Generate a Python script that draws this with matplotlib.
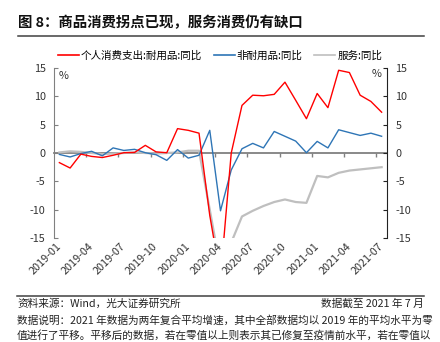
import matplotlib
matplotlib.use("Agg")
import matplotlib.pyplot as plt
from matplotlib.lines import Line2D
import pandas as pd

plt.rcParams['font.family'] = ['Noto Sans CJK SC', 'DejaVu Sans']
plt.rcParams['axes.unicode_minus'] = False

# 月度数据：2019-01 至 2021-07，相对 2019 年平均水平的同比
months = [p.strftime('%Y-%m') for p in pd.period_range('2019-01', '2021-07', freq='M')]

durable = [-1.7, -2.65, -0.2, -0.6, -0.8, -0.4, 0.05, 0.1, 1.35, 0.2,
           0.05, 4.3, 4.0, 3.5, -11.0, -22.0, 0.0, 8.4, 10.2, 10.1,
           10.35, 12.5, 9.3, 6.05, 10.5, 8.0, 14.6, 14.2, 10.2, 9.1, 7.2]
nondurable = [-0.25, -0.7, -0.1, 0.3, -0.5, 0.9, 0.45, 0.65, 0.05, -0.3,
              -1.3, 0.6, -0.9, -0.4, 4.0, -10.2, -3.0, 0.75, 1.7, 0.9,
              3.8, 2.95, 2.1, 0.05, 2.05, 0.9, 4.1, 3.6, 3.1, 3.5, 2.95]
services = [0.1, 0.3, 0.2, 0.0, -0.2, -0.1, 0.0, 0.1, 0.0, -0.1,
            0.0, 0.1, 0.4, 0.4, -10.0, -20.4, -15.8, -11.2, -10.2, -9.35,
            -8.65, -8.2, -8.65, -8.8, -4.05, -4.3, -3.5, -3.1, -2.9, -2.7, -2.5]

series_names = ['个人消费支出:耐用品:同比', '非耐用品:同比', '服务:同比']
series_colors = ['#FF0000', '#2E75B6', '#BFBFBF']
yticks = [-15, -10, -5, 0, 5, 10, 15]

W, H = 440, 342
fig = plt.figure(figsize=(W / 100, H / 100), dpi=100)
ax = fig.add_axes([54 / W, 1 - 238 / H, 333 / W, 170 / H])

x = list(range(len(months)))
ax.plot(x, services, color=series_colors[2], lw=1.6, label=series_names[2], zorder=3)
ax.plot(x, nondurable, color=series_colors[1], lw=1.0, label=series_names[1], zorder=4)
ax.plot(x, durable, color=series_colors[0], lw=1.0, label=series_names[0], zorder=5)

ax.set_xlim(-0.5, len(months) - 0.5)
ax.set_ylim(-15, 15)
ax.set_yticks(yticks)
ax.tick_params(axis='y', direction='in', length=3, color='#808080',
               labelcolor='#333333', labelsize=7.8, pad=6)

# 零轴：分类边界处的刻度线
ax.spines['bottom'].set_position(('data', 0))
ax.spines['bottom'].set_color('#808080')
ax.spines['bottom'].set_linewidth(1.3)
ax.spines['bottom'].set_zorder(2)
ax.set_xticks([i - 0.5 for i in range(3, len(months), 3)])
ax.tick_params(axis='x', direction='out', length=3, width=1, color='#808080',
               labelbottom=False)
ax.spines['left'].set_color('#808080')
ax.spines['top'].set_visible(False)
ax.spines['right'].set_visible(False)

# 日期标签放在图区下方
sec = ax.secondary_xaxis(0.0)
sec.set_xticks(x[::3], months[::3])
sec.spines['bottom'].set_visible(False)
sec.tick_params(axis='x', length=0, pad=5, labelsize=7.8, labelcolor='#333333')
for lab in sec.get_xticklabels():
    lab.set_rotation(45)
    lab.set_ha('right')
    lab.set_va('center')
    lab.set_rotation_mode('anchor')

ax2 = ax.twinx()
ax2.set_ylim(-15, 15)
ax2.set_yticks(yticks)
ax2.tick_params(axis='y', direction='in', length=3, color='#222222',
                labelcolor='#333333', labelsize=7.8, pad=6)
for s in ['top', 'left', 'bottom']:
    ax2.spines[s].set_visible(False)
ax2.spines['right'].set_color('#222222')

ax.text(0.0135, 0.953, '%', transform=ax.transAxes, ha='left', va='center',
        fontsize=7.8, color='#333333')
ax.text(0.982, 0.965, '%', transform=ax.transAxes, ha='right', va='center',
        fontsize=7.8, color='#333333')

handles = [Line2D([], [], color=c, lw=1.2) for c in series_colors]
fig.legend(handles, series_names, loc='center', bbox_to_anchor=(0.5, 1 - 55.5 / H),
           ncol=3, frameon=False, fontsize=7.6, handlelength=2.0,
           handletextpad=0.2, columnspacing=1.1)

# 标题与分隔线
fig.text(18 / W, 1 - 22.5 / H, '图 8：商品消费拐点已现，服务消费仍有缺口',
         fontsize=10.4, fontweight='bold', ha='left', va='center', color='#111111')
fig.add_artist(Line2D([18 / W, 424 / W], [1 - 36 / H] * 2, color='#404040', lw=1.1))
fig.add_artist(Line2D([17 / W, 424 / W], [1 - 296 / H] * 2, color='#404040', lw=1.1))

foot_kw = dict(fontsize=7.7, va='center', color='#222222')
fig.text(17 / W, 1 - 304 / H, '资料来源：Wind，光大证券研究所', ha='left', **foot_kw)
fig.text(424 / W, 1 - 304 / H, '数据截至 2021 年 7 月', ha='right', **foot_kw)
fig.text(17 / W, 1 - 320 / H,
         '数据说明：2021 年数据为两年复合平均增速，其中全部数据均以 2019 年的平均水平为零',
         ha='left', **foot_kw)
fig.text(17 / W, 1 - 335.5 / H,
         '值进行了平移。平移后的数据，若在零值以上则表示其已修复至疫情前水平，若在零值以',
         ha='left', **foot_kw)

fig.savefig('out.png', dpi=100)
